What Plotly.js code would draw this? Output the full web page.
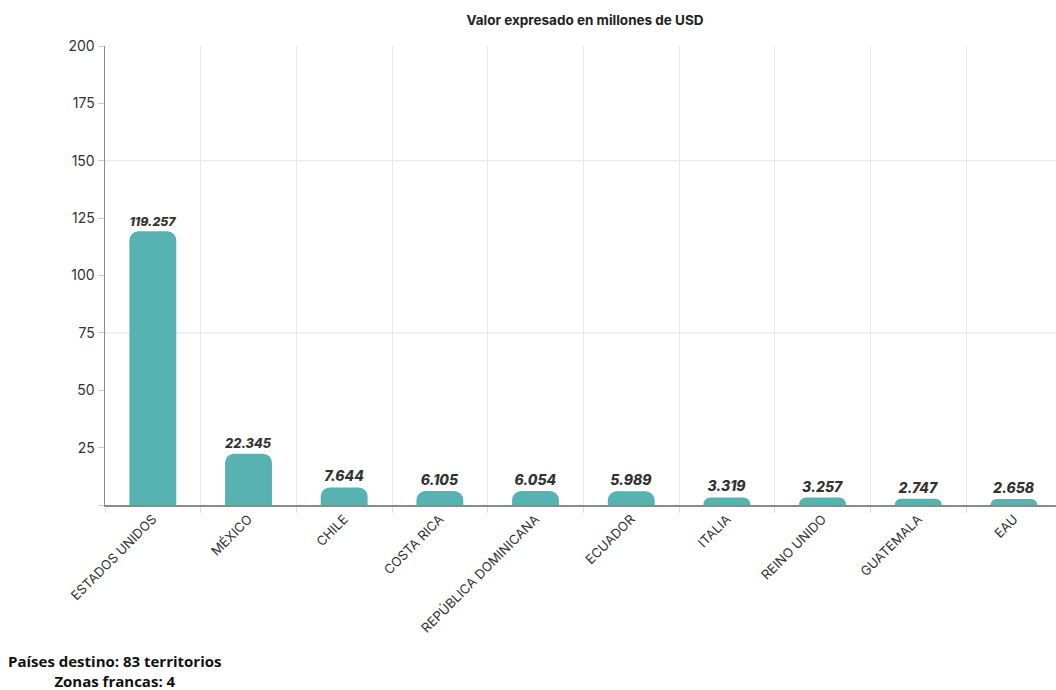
<!DOCTYPE html>
<html>
<head>
<meta charset="utf-8">
<script src="https://cdn.plot.ly/plotly-3.0.1.min.js"></script>
<style>
html,body{margin:0;padding:0;background:#fff;}
#chart{width:1056px;height:690px;}
</style>
</head>
<body>
<div id="chart"></div>
<script>
const countries = ["ESTADOS UNIDOS","MÉXICO","CHILE","COSTA RICA","REPÚBLICA DOMINICANA","ECUADOR","ITALIA","REINO UNIDO","GUATEMALA","EAU"];
const valuesMUSD = [119.257,22.345,7.644,6.105,6.054,5.989,3.319,3.257,2.747,2.658];
const yTicks = [0,25,50,75,100,125,150,175,200];
const yTickText = ["","25","50","75","100","125","150","175","200"];
const gridValues = [75,150];
const titleText = "Valor expresado en millones de USD";
const noteLines = ["Países destino: 83 territorios","Zonas francas: 4"];

const trace = {
  type: "bar",
  x: countries,
  y: valuesMUSD,
  marker: {color: "#56b3b1", cornerradius: 9},
  texttemplate: "%{y:.3f}",
  textposition: "outside",
  cliponaxis: false,
  textfont: {family: "Inter, Roboto, sans-serif", size: 14, color: "#333333", weight: 800, style: "italic"},
  hoverinfo: "x+y"
};

const shapes = gridValues.map(v => ({
  type: "line", xref: "paper", yref: "y", x0: 0, x1: 1, y0: v, y1: v,
  line: {color: "#e4e4e4", width: 1}, layer: "below"
}));

const layout = {
  width: 1056, height: 690,
  margin: {l: 105, r: 0, t: 46, b: 185},
  paper_bgcolor: "#ffffff", plot_bgcolor: "#ffffff",
  showlegend: false,
  bargap: 0.51,
  title: {
    text: "<b>" + titleText + "</b>",
    font: {family: "Inter, Roboto, sans-serif", size: 13.5, color: "#222222"},
    x: 0.554, xanchor: "center", y: 0.971, yanchor: "middle"
  },
  xaxis: {
    type: "category",
    range: [-0.5, 9.44],
    tickson: "boundaries",
    showgrid: true, gridcolor: "#e8e8e8", gridwidth: 1,
    ticks: "outside", ticklen: 6, tickcolor: "#dddddd",
    tickangle: -45,
    tickfont: {family: "Inter, Roboto, sans-serif", size: 13, color: "#333333"},
    showline: true, linecolor: "#8a8a8a", linewidth: 1.5,
    zeroline: false, fixedrange: true
  },
  yaxis: {
    range: [0, 200],
    tickvals: yTicks, ticktext: yTickText,
    showgrid: false,
    ticks: "outside", ticklen: 6, tickcolor: "#cccccc",
    tickfont: {family: "Inter, Roboto, sans-serif", size: 14, color: "#333333"},
    showline: true, linecolor: "#8a8a8a", linewidth: 1.5,
    zeroline: false, fixedrange: true
  },
  shapes: shapes,
  annotations: [{
    xref: "paper", yref: "paper",
    x: 0.0105, y: -0.362, xanchor: "center", yanchor: "middle",
    text: "<b>" + noteLines.join("<br>") + "</b>",
    align: "center", showarrow: false,
    font: {family: "Open Sans, Noto Sans, sans-serif", size: 15, color: "#111111"}
  }]
};

Plotly.newPlot("chart", [trace], layout, {displayModeBar: false, staticPlot: true});
</script>
</body>
</html>
